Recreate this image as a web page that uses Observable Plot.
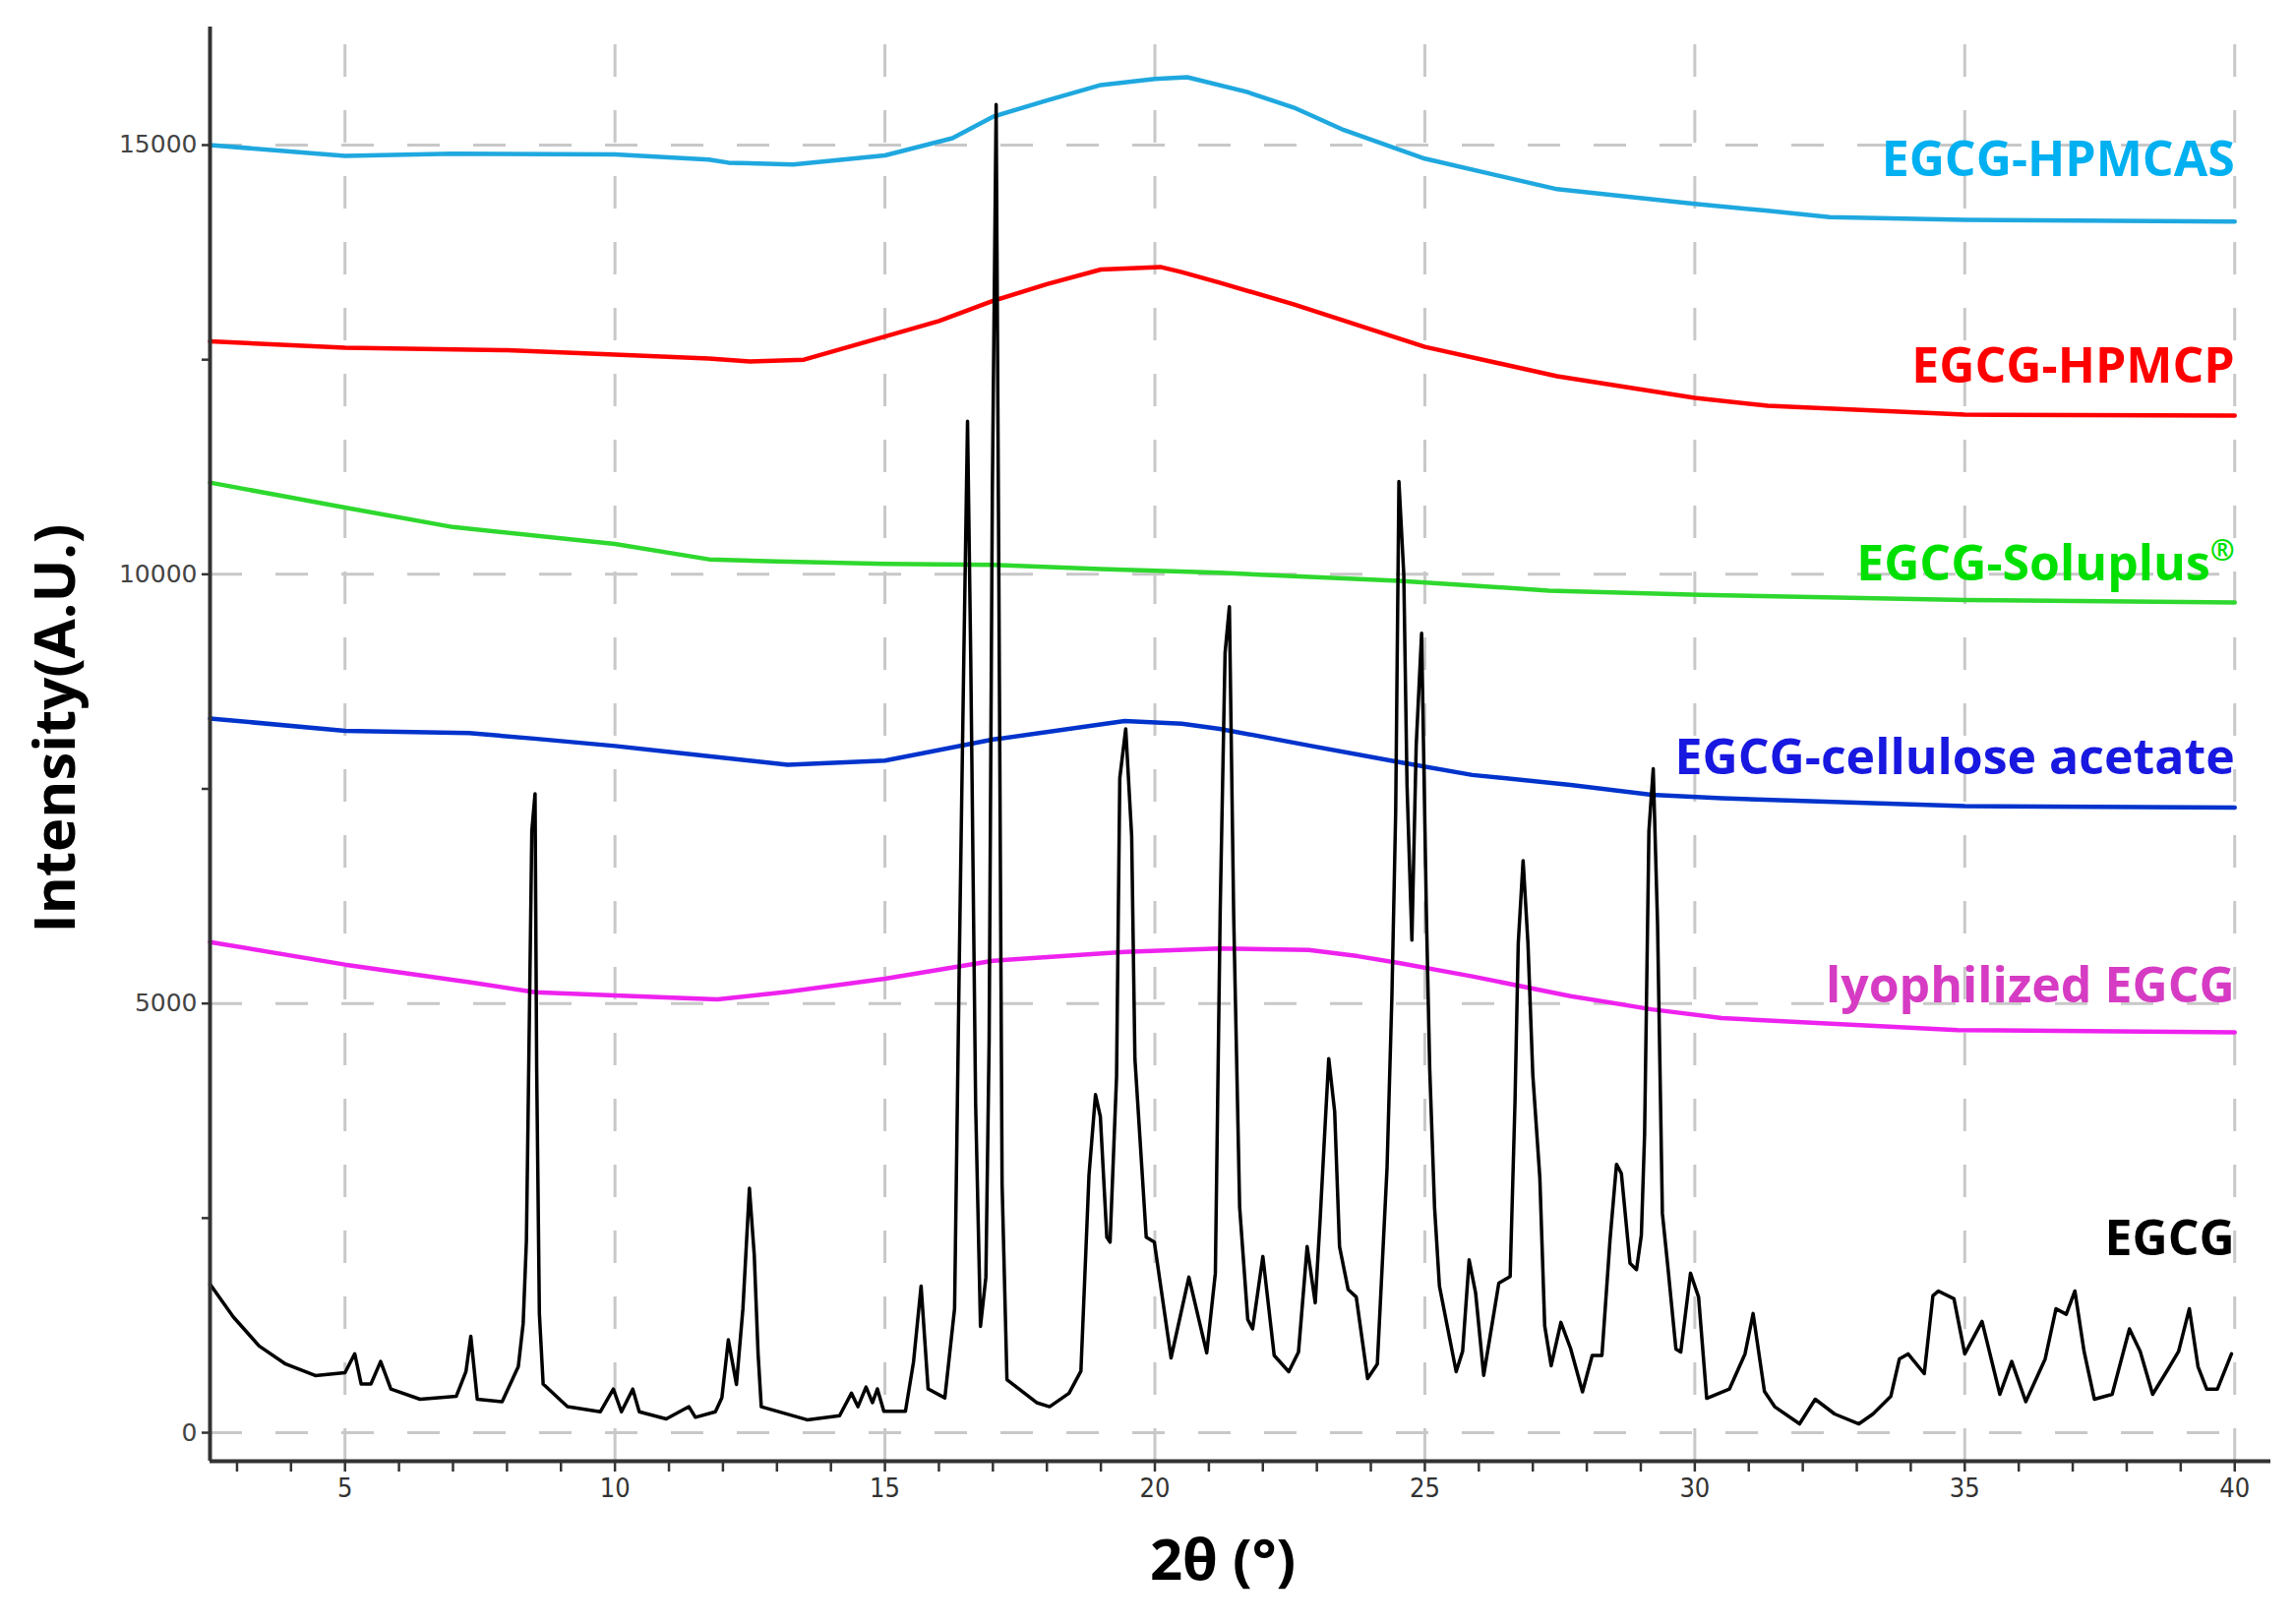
<!DOCTYPE html>
<html>
<head>
<meta charset="utf-8">
<script src="https://cdn.jsdelivr.net/npm/d3@7"></script>
<script src="https://cdn.jsdelivr.net/npm/@observablehq/plot@0.6"></script>
<style>
  html, body { margin: 0; padding: 0; background: #fff; }
  #chart svg { display: block; }
</style>
</head>
<body>
<div id="chart"></div>
<script>
// ---- data ----
const hpmcas = [[2.5,15000],[5,14875],[7,14900],[10,14890],[11.74,14830],[12.1,14795],[13.3,14773],[15,14880],[16.25,15080],[17,15330],[18,15520],[19,15700],[20,15770],[20.6,15790],[21.7,15620],[22.57,15438],[23.5,15175],[25,14842],[27.45,14486],[30,14314],[31.35,14234],[32.5,14160],[35,14130],[40,14110]];
const hpmcp = [[2.5,12713],[5,12640],[8,12610],[10,12560],[11.74,12514],[12.5,12480],[13.5,12500],[15,12770],[16,12950],[17,13185],[18,13380],[19,13550],[20.1,13580],[20.48,13523],[21.2,13397],[22.57,13145],[25,12650],[27.45,12307],[30,12055],[31.35,11963],[35,11860],[40,11850]];
const soluplus = [[2.5,11068],[5,10778],[7,10550],[10,10353],[11.74,10174],[13,10150],[15,10120],[17,10110],[19,10060],[21.2,10017],[24.52,9925],[27.3,9810],[30.1,9760],[35,9700],[40,9673]];
const celluloseAcetate = [[2.5,8320],[5,8177],[7.3,8150],[8.5,8086],[10,8000],[11.9,7870],[13.2,7782],[15,7830],[17,8075],[19.44,8290],[20.5,8260],[21.2,8200],[22.85,8006],[24.52,7812],[25.88,7662],[27.7,7547],[29.2,7432],[30.5,7390],[35,7300],[40,7283]];
const lyophilized = [[2.5,5716],[5,5453],[7.3,5248],[8.52,5131],[10,5093],[11.9,5047],[13.2,5138],[15,5288],[17,5497],[19.44,5600],[21.2,5640],[22.85,5623],[23.76,5551],[24.52,5471],[25.88,5316],[27.7,5086],[29.2,4932],[30.5,4830],[34.87,4691],[40,4663]];
const egcg = [[2.5,1730],[2.93,1350],[3.41,1010],[3.9,800],[4.45,665],[5.0,700],[5.18,920],[5.3,567],[5.48,567],[5.66,830],[5.85,508],[6.39,390],[7.06,424],[7.24,711],[7.33,1124],[7.45,390],[7.91,361],[8.21,770],[8.3,1273],[8.36,2237],[8.39,3640],[8.46,7008],[8.52,7444],[8.55,4255],[8.6,1388],[8.67,567],[9.12,303],[9.73,244],[9.97,508],[10.12,244],[10.33,508],[10.45,244],[10.95,160],[11.37,303],[11.49,180],[11.86,244],[11.98,406],[12.1,1082],[12.25,562],[12.37,1445],[12.49,2848],[12.58,2070],[12.65,930],[12.71,303],[13.56,150],[14.16,198],[14.38,460],[14.5,303],[14.65,531],[14.77,350],[14.86,510],[14.98,250],[15.38,250],[15.53,826],[15.67,1709],[15.8,510],[16.11,406],[16.29,1445],[16.38,5600],[16.46,8981],[16.53,11783],[16.59,8981],[16.68,3834],[16.77,1239],[16.87,1812],[16.93,4565],[16.99,11004],[17.06,15473],[17.11,9968],[17.17,2902],[17.26,619],[17.81,350],[18.05,303],[18.41,460],[18.63,718],[18.78,3005],[18.9,3938],[18.99,3682],[19.11,2277],[19.17,2220],[19.29,4146],[19.35,7627],[19.46,8200],[19.57,6950],[19.63,4358],[19.84,2277],[19.99,2220],[20.3,872],[20.63,1812],[20.96,930],[21.12,1858],[21.21,6085],[21.3,9084],[21.38,9623],[21.46,6010],[21.57,2627],[21.72,1319],[21.81,1210],[22.0,2053],[22.21,900],[22.48,711],[22.66,940],[22.82,2168],[22.97,1514],[23.06,2477],[23.15,3549],[23.22,4358],[23.33,3740],[23.42,2168],[23.58,1667],[23.73,1580],[23.94,631],[24.12,800],[24.3,3088],[24.39,5086],[24.46,7237],[24.52,11080],[24.61,10000],[24.67,7547],[24.76,5738],[24.84,8006],[24.94,9313],[25.03,6010],[25.09,4244],[25.18,2627],[25.27,1709],[25.58,711],[25.7,950],[25.82,2013],[25.94,1630],[26.09,669],[26.37,1743],[26.58,1820],[26.67,3856],[26.73,5700],[26.82,6664],[26.91,5700],[27.0,4164],[27.13,2970],[27.22,1245],[27.34,780],[27.52,1285],[27.7,980],[27.92,476],[28.1,900],[28.28,900],[28.43,2248],[28.55,3127],[28.64,3020],[28.8,1973],[28.92,1900],[29.01,2300],[29.07,3475],[29.15,7008],[29.23,7735],[29.31,5930],[29.4,2551],[29.5,1938],[29.65,975],[29.74,940],[29.92,1858],[30.07,1580],[30.22,400],[30.31,424],[30.64,508],[30.93,918],[31.08,1388],[31.29,482],[31.48,303],[31.94,103],[32.23,390],[32.59,218],[33.04,103],[33.3,218],[33.63,424],[33.79,860],[33.95,918],[34.25,688],[34.41,1594],[34.51,1651],[34.8,1560],[35.0,918],[35.32,1296],[35.65,447],[35.87,830],[36.13,361],[36.49,860],[36.69,1445],[36.88,1380],[37.04,1651],[37.21,946],[37.4,390],[37.73,447],[38.05,1210],[38.25,946],[38.48,447],[38.77,745],[38.96,946],[39.16,1445],[39.32,770],[39.48,508],[39.68,508],[39.94,918]];

const seriesNames = ["EGCG-HPMCAS","EGCG-HPMCP","EGCG-Soluplus®","EGCG-cellulose acetate","lyophilized EGCG","EGCG"];
const labelValues = [14636, 12227, 9933, 7673, 5012, 2065];
const xTicks = d3.range(3, 41);
const yTicks = d3.range(0, 15001, 2500);
const xGrid = [5,10,15,20,25,30,35,40];
const yGrid = [0,5000,10000,15000];

// ---- styles ----
const lineColors = ["#1fa8df","#ff0000","#2ed82e","#0033cc","#ee22ee","#000000"];
const labelColors = ["#00b0f0","#ff0000","#00e000","#1818e0","#d63cc3","#000000"];
const series = [hpmcas, hpmcp, soluplus, celluloseAcetate, lyophilized, egcg];
const labelRows = seriesNames.map((name, i) => ({name, value: labelValues[i], color: labelColors[i]}));

const X0 = 2.5, X1 = 40.67, Y0 = -332, Y1 = 16375;

const lineMarks = series.map((s, i) =>
  Plot.line(s, {x: d => d[0], y: d => d[1], stroke: lineColors[i], strokeWidth: i === 5 ? 3.5 : 4.5, strokeLinejoin: "round"})
);

const chart = Plot.plot({
  width: 2333,
  height: 1651,
  marginLeft: 213,
  marginRight: 25,
  marginTop: 27,
  marginBottom: 166,
  x: {domain: [X0, X1]},
  y: {domain: [Y0, Y1]},
  style: {background: "#fff", fontFamily: "'Open Sans', sans-serif"},
  marks: [
    Plot.ruleX(xGrid, {y1: Y0, y2: Y1 - 200, stroke: "#c8c8c8", strokeWidth: 3, strokeDasharray: "33,34"}),
    Plot.ruleY(yGrid, {x1: X0, x2: 40, stroke: "#c8c8c8", strokeWidth: 3, strokeDasharray: "33,34"}),
    ...lineMarks,
    Plot.ruleY([Y0], {x1: X0, x2: X1, stroke: "#333", strokeWidth: 4}),
    Plot.ruleX([X0], {y1: Y0, y2: Y1, stroke: "#333", strokeWidth: 4}),
    Plot.axisX({ticks: xTicks, tickSize: 11, tickPadding: 6, strokeWidth: 2.5, stroke: "#333", fill: "#333",
      tickFormat: d => d % 5 === 0 ? String(d) : "", fontSize: 27, fontFamily: "'DejaVu Sans Condensed', 'DejaVu Sans'", label: null}),
    Plot.axisY({ticks: yTicks, tickSize: 8, tickPadding: 5, strokeWidth: 2.5, stroke: "#333", fill: "#444",
      tickFormat: d => d % 5000 === 0 ? String(d) : "", fontSize: 25, fontFamily: "'DejaVu Sans'", label: null}),
    Plot.text(labelRows, {x: 40, y: "value", text: "name", fill: "color", textAnchor: "end", lineAnchor: "bottom",
      fontSize: 50, fontWeight: 700, fontFamily: "'Open Sans'"}),
    Plot.text(["2θ (°)"], {frameAnchor: "bottom", text: d => d, textAnchor: "middle", dx: -18, dy: 120, lineAnchor: "bottom",
      fontSize: 58, fontWeight: 700, fill: "#000", fontFamily: "'Open Sans'"}),
    Plot.text(["Intensity(A.U.)"], {frameAnchor: "left", text: d => d, textAnchor: "middle", rotate: -90, dx: -156, dy: -16, lineAnchor: "middle",
      fontSize: 58, fontWeight: 700, fill: "#000", fontFamily: "'Open Sans'"})
  ]
});

document.getElementById("chart").appendChild(chart);

// superscript the registered mark
chart.querySelectorAll("text").forEach(t => {
  if (t.textContent === "EGCG-Soluplus®") {
    t.textContent = "EGCG-Soluplus";
    const sup = document.createElementNS("http://www.w3.org/2000/svg", "tspan");
    sup.setAttribute("font-size", "30");
    sup.setAttribute("dy", "-20");
    sup.textContent = "®";
    t.appendChild(sup);
  }
});
</script>
</body>
</html>
